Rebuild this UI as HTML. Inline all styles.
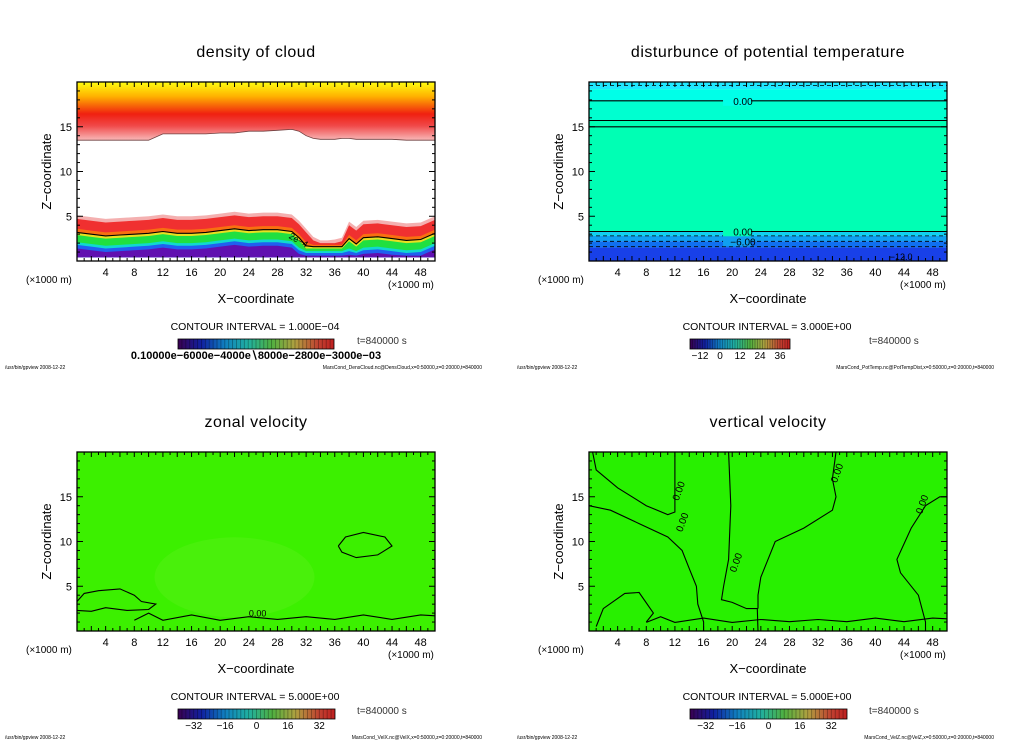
<!DOCTYPE html>
<html><head><meta charset="utf-8"><style>
html,body{margin:0;padding:0;background:#fff}
svg{display:block;font-family:"Liberation Sans",sans-serif}
</style></head><body>
<svg id="fig" width="1024" height="740" viewBox="0 0 1024 740" xmlns="http://www.w3.org/2000/svg">
<defs>
<linearGradient id="rainbow" x1="0" x2="1" y1="0" y2="0">
<stop offset="0" stop-color="#3a0050"/><stop offset="0.15" stop-color="#1020a0"/><stop offset="0.3" stop-color="#1080c0"/><stop offset="0.45" stop-color="#20b0a0"/><stop offset="0.6" stop-color="#50b040"/><stop offset="0.75" stop-color="#b0a040"/><stop offset="0.9" stop-color="#c04030"/><stop offset="1" stop-color="#c02020"/>
</linearGradient>
<linearGradient id="upperCloud" x1="0" x2="0" y1="0" y2="1">
<stop offset="0" stop-color="#ffff10"/><stop offset="0.25" stop-color="#ffb000"/><stop offset="0.55" stop-color="#f02010"/><stop offset="0.75" stop-color="#f04848"/><stop offset="1" stop-color="#f8b8b8"/>
</linearGradient>
</defs>
</svg>
<script>
// ---- shared axis data ----
const xTicks = [4, 8, 12, 16, 20, 24, 28, 32, 36, 40, 44, 48];
const zTicks = [5, 10, 15];
const xMax = 50, zMax = 20;
// density of cloud
const cloudX = [0, 2, 4, 6, 8, 10, 12, 14, 16, 18, 20, 22, 24, 26, 28, 30, 31, 32, 33, 34, 35, 36, 37, 38, 39, 40, 42, 44, 46, 48, 50];
const lowerCloudTop = [5.1, 4.9, 4.7, 4.8, 4.9, 5.0, 5.2, 5.0, 5.0, 5.1, 5.3, 5.5, 5.3, 5.4, 5.4, 5.2, 4.5, 3.6, 2.7, 2.3, 2.3, 2.4, 2.6, 4.4, 3.8, 4.5, 4.6, 4.4, 4.2, 4.3, 5.0];
const upperCloudBase = [13.5, 13.5, 13.5, 13.5, 13.5, 13.5, 14.2, 14.2, 14.2, 14.2, 14.3, 14.3, 14.5, 14.5, 14.6, 14.7, 14.5, 14.0, 13.7, 13.6, 13.6, 13.6, 13.7, 13.7, 13.6, 13.6, 13.6, 13.6, 13.5, 13.5, 13.5];
const cloudLayerOffsets = [0, 0.4, 1.5, 1.9, 2.2, 3.0, 3.3, 3.7];
const cloudLayerMins = [2.3, 2.0, 1.8, 1.6, 1.4, 1.1, 0.9, 0.6];
const cloudLayerColors = ["#f4b0b0", "#f03030", "#f87010", "#e8e020", "#20e040", "#10d8d0", "#2060f0", "#6010b0"];
// potential temperature layers (z boundaries)
const ptBands = [[19.2, 20, "#20e8ff"], [17.9, 19.2, "#00ffe8"], [15.7, 17.9, "#00ffd0"], [3.3, 15.7, "#00ffb4"], [2.8, 3.3, "#10d0f0"], [2.2, 2.8, "#10a0f0"], [1.5, 2.2, "#1070f0"], [0, 1.5, "#1840e8"]];
const ptSolid = [17.9, 15.7, 15.0, 3.3];
const ptDashed = [19.6, 2.8, 2.2, 1.6];
// zonal velocity contours [x,z]
const uContour1 = [[0,3.3],[1,4.2],[3,4.5],[6,4.7],[8,4.0],[9,3.3],[11,3.0],[10,2.4],[7,2.3],[4,2.6],[2,2.2],[0,2.3]];
const uContour2 = [[36.5,9.5],[37.5,10.5],[40,11],[43,10.5],[44,9.5],[42,8.5],[39,8.2],[37,8.8],[36.5,9.5]];
const uContour3 = [[8,1.2],[10,2.0],[12,1.2],[16,1.8],[20,1.2],[24,1.6],[28,1.3],[32,1.6],[36,1.3],[40,1.8],[44,1.3],[48,1.8],[50,1.7]];
// vertical velocity contours
const wLines = [
 [[0.5,20],[1,18],[4,16],[8,14],[11,13],[12,13.3],[12,20]],
 [[0,14],[3,13.5],[7,12],[11,10.5],[13,9],[14,7],[15,5],[15.2,3],[16,1],[16,0]],
 [[19.5,20],[19.8,14],[19.5,8],[18.8,5],[18.5,3.5],[20,3.2],[22,2.5],[23.5,2.5],[23.6,0]],
 [[34.5,20],[34,17],[34.5,15],[34,13.5],[30,11.5],[26,10],[25,8],[24,6],[23.6,4],[23.6,2.5]],
 [[50,15],[49,15],[47,14],[45,11.5],[43,8],[43.5,6.5],[46,4],[47,1],[47,0]]
];
const wLabels = [[12.5,14.5],[13,11],[20.5,6.5],[34.6,16.5],[46.5,13]];

const svg = document.getElementById('fig');
const NS = 'http://www.w3.org/2000/svg';
function el(tag, attrs, parent, text) {
  const e = document.createElementNS(NS, tag);
  for (const k in attrs) e.setAttribute(k, attrs[k]);
  if (text !== undefined) e.textContent = text;
  (parent || svg).appendChild(e);
  return e;
}
function makePanel(ox, oy, name) {
  const L = 77 + ox, T = 82 + oy, W = 358, H = 179;
  const g = el('g', {});
  
  
  const sx = v => L + v / xMax * W;
  const sz = v => T + H - v / zMax * H;
  return { g, L, T, W, H, sx, sz, ox, oy };
}
function frame(p, title) {
  const { g, L, T, W, H, sx, sz, ox, oy } = p;
  const box = el('rect', { x: L, y: T, width: W, height: H, fill: 'none', stroke: '#000', 'stroke-width': 1.3 }, g);
  
  
  for (let v = 1; v < 50; v++) {
    const len = v % 2 === 0 ? 5 : 3;
    el('line', { x1: sx(v), x2: sx(v), y1: T + H, y2: T + H - len, stroke: '#000' }, g);
    el('line', { x1: sx(v), x2: sx(v), y1: T, y2: T + len, stroke: '#000' }, g);
  }
  for (let v = 1; v < 20; v++) {
    const len = v % 5 === 0 ? 6 : 3;
    el('line', { x1: L, x2: L + len, y1: sz(v), y2: sz(v), stroke: '#000' }, g);
    el('line', { x1: L + W, x2: L + W - len, y1: sz(v), y2: sz(v), stroke: '#000' }, g);
  }
  xTicks.forEach(v => {
    const t = el('text', { x: sx(v), y: T + H + 15, 'font-size': 11, 'text-anchor': 'middle' }, g, String(v));
    
    
  });
  zTicks.forEach(v => {
    const t = el('text', { x: L - 5, y: sz(v) + 4, 'font-size': 11, 'text-anchor': 'end' }, g, String(v));
    
    
  });
  const ti = el('text', { x: L + W / 2, y: T - 25, 'font-size': 16, 'text-anchor': 'middle', 'letter-spacing': 0.5 }, g, title);
  
  
  const yl = el('text', { x: 0, y: 0, 'font-size': 13, 'text-anchor': 'middle', transform: `translate(${L - 26},${T + H / 2}) rotate(-90)` }, g, 'Z\u2212coordinate');
  
  
  const xl = el('text', { x: L + W / 2, y: T + H + 42, 'font-size': 13, 'text-anchor': 'middle' }, g, 'X\u2212coordinate');
  
  
  const u1 = el('text', { x: L - 51, y: T + H + 22, 'font-size': 10 }, g, '(\u00d71000 m)');
  
  
  const u2 = el('text', { x: L + W - 47, y: T + H + 27, 'font-size': 10 }, g, '(\u00d71000 m)');
  
  
}
function legend(p, interval, labels, fileText, wideLabels) {
  const { g, ox, oy } = p;
  const ci = el('text', { x: 255 + ox, y: 330 + oy, 'font-size': 10.5, 'text-anchor': 'middle' }, g, 'CONTOUR INTERVAL = ' + interval);
  
  
  const bw = wideLabels ? 156 : (labels.length === 5 && oy === 0 ? 100 : 157);
  const cb = el('rect', { x: 178 + ox, y: 339 + oy, width: bw, height: 10, fill: 'url(#rainbow)', stroke: '#000', 'stroke-width': 0.8 }, g);
  
  
  for (let i = 1; i < 40; i++) el('line', { x1: 178 + ox + i * bw / 40, x2: 178 + ox + i * bw / 40, y1: 339 + oy, y2: 349 + oy, stroke: '#000', 'stroke-opacity': 0.35, 'stroke-width': 0.8 }, g);
  if (wideLabels) {
    const lt = el('text', { x: 256 + ox, y: 359 + oy, 'font-size': 11, 'text-anchor': 'middle', 'font-weight': 'bold' }, g, labels[0]);
    
    
  } else {
    labels.forEach((s, i) => {
      const lt = el('text', { x: 178 + ox + (i + 0.5) * bw / labels.length, y: 359 + oy, 'font-size': 10, 'text-anchor': 'middle' }, g, s);
      
      
    });
  }
  const tt = el('text', { x: 357 + ox, y: 344 + oy, 'font-size': 10, fill: '#333' }, g, 't=840000  s');
  
  
  const f1 = el('text', { x: 5 + ox, y: 369 + oy, 'font-size': 5 }, g, '/usr/bin/gpview   2008-12-22');
  
  
  const f2 = el('text', { x: 482 + ox, y: 369 + oy, 'font-size': 5, 'text-anchor': 'end' }, g, fileText);
  
  
}
function poly(p, pts, attrs, name) {
  const d = pts.map(q => p.sx(q[0]).toFixed(1) + ',' + p.sz(q[1]).toFixed(1)).join(' ');
  const e = el('polyline', Object.assign({ points: d, fill: 'none', stroke: '#000', 'stroke-width': 1.1 }, attrs), p.g);
  
  
  return e;
}

// ---- panel 1: density of cloud ----
const p1 = makePanel(0, 0, 'density-of-cloud');
const up = cloudX.map((x, i) => [x, upperCloudBase[i]]);
const upArea = el('polygon', { points: [[0, 20], ...up, [50, 20]].map(q => p1.sx(q[0]) + ',' + p1.sz(q[1])).join(' '), fill: 'url(#upperCloud)' }, p1.g);


cloudLayerOffsets.forEach((off, k) => {
  const pts = cloudX.map((x, i) => [x, Math.max(cloudLayerMins[k], lowerCloudTop[i] - off)]);
  const a = el('polygon', { points: [[0, 0.4], ...pts, [50, 0.4]].map(q => p1.sx(q[0]) + ',' + p1.sz(q[1])).join(' '), fill: cloudLayerColors[k] }, p1.g);
  
  
});
poly(p1, up, { stroke: '#704040', 'stroke-width': 0.8 }, 'upper-cloud-contour');
poly(p1, cloudX.map((x, i) => [x, Math.max(1.6, lowerCloudTop[i] - 1.9)]), {}, 'contour-2e-4');
const lbl1 = el('text', { x: p1.sx(29.5), y: p1.sz(2.6), 'font-size': 9, transform: `rotate(30 ${p1.sx(29.5)} ${p1.sz(2.6)})` }, p1.g, '2e\u22124');


frame(p1, 'density of cloud');
legend(p1, '1.000E\u221204', ['0.10000e\u22126000e\u22124000e\u22168000e\u22122800e\u22123000e\u221203'], 'MarsCond_DensCloud.nc@DensCloud,x=0:50000,z=0:20000,t=840000', true);

// ---- panel 2: potential temperature ----
const p2 = makePanel(512, 0, 'potential-temperature');
ptBands.forEach(b => {
  const r = el('rect', { x: p2.L, y: p2.sz(b[1]), width: p2.W, height: p2.sz(b[0]) - p2.sz(b[1]), fill: b[2] }, p2.g);
  
  
});
ptSolid.forEach(z => poly(p2, [[0, z], [50, z]], {}, 'contour-solid'));
ptDashed.forEach(z => poly(p2, [[0, z], [50, z]], { 'stroke-dasharray': '4,3', 'stroke-width': 0.8 }, 'contour-dashed'));
[[17.9, '0.00'], [3.3, '0.00'], [2.2, '\u22126.00']].forEach(l => {
  el('rect', { x: p2.sx(19) - 2, y: p2.sz(l[0]) - 5, width: 28, height: 10, fill: ptBands.find(b => l[0] >= b[0] && l[0] < b[1])[2] }, p2.g);
  const t = el('text', { x: p2.sx(21.5), y: p2.sz(l[0]) + 4, 'font-size': 10, 'text-anchor': 'middle' }, p2.g, l[1]);
  
  
});
const t12 = el('text', { x: p2.sx(42), y: p2.sz(0.1), 'font-size': 9 }, p2.g, '\u221212.0');


frame(p2, 'disturbunce of potential temperature');
legend(p2, '3.000E+00', ['\u221212', '0', '12', '24', '36'], 'MarsCond_PotTemp.nc@PotTempDist,x=0:50000,z=0:20000,t=840000', false);

// ---- panel 3: zonal velocity ----
const p3 = makePanel(0, 370, 'zonal-velocity');
const bg3 = el('rect', { x: p3.L, y: p3.T, width: p3.W, height: p3.H, fill: '#3cf000' }, p3.g);


const blob = el('ellipse', { cx: p3.sx(22), cy: p3.sz(6), rx: 80, ry: 40, fill: '#60f020', opacity: 0.35 }, p3.g);


poly(p3, uContour1, {}, 'contour-line');
poly(p3, uContour2, {}, 'contour-line');
poly(p3, uContour3, {}, 'contour-line');
const l3 = el('text', { x: p3.sx(24), y: p3.sz(1.6), 'font-size': 9 }, p3.g, '0.00');


frame(p3, 'zonal velocity');
legend(p3, '5.000E+00', ['\u221232', '\u221216', '0', '16', '32'], 'MarsCond_VelX.nc@VelX,x=0:50000,z=0:20000,t=840000', false);

// ---- panel 4: vertical velocity ----
const p4 = makePanel(512, 370, 'vertical-velocity');
const bg4 = el('rect', { x: p4.L, y: p4.T, width: p4.W, height: p4.H, fill: '#28f000' }, p4.g);


wLines.forEach(l => poly(p4, l, {}, 'contour-line'));
poly(p4, uContour3.map(q => [q[0], q[1] * 0.8]), {}, 'contour-line');
poly(p4, [[1,0.5],[2,2.5],[5,4.2],[7,4.3],[9,2],[8,1]], {}, 'contour-line');
wLabels.forEach(q => {
  const t = el('text', { x: p4.sx(q[0]), y: p4.sz(q[1]), 'font-size': 10, transform: `rotate(-70 ${p4.sx(q[0])} ${p4.sz(q[1])})` }, p4.g, '0.00');
  
  
});
frame(p4, 'vertical velocity');
legend(p4, '5.000E+00', ['\u221232', '\u221216', '0', '16', '32'], 'MarsCond_VelZ.nc@VelZ,x=0:50000,z=0:20000,t=840000', false);
</script>
</body></html>
